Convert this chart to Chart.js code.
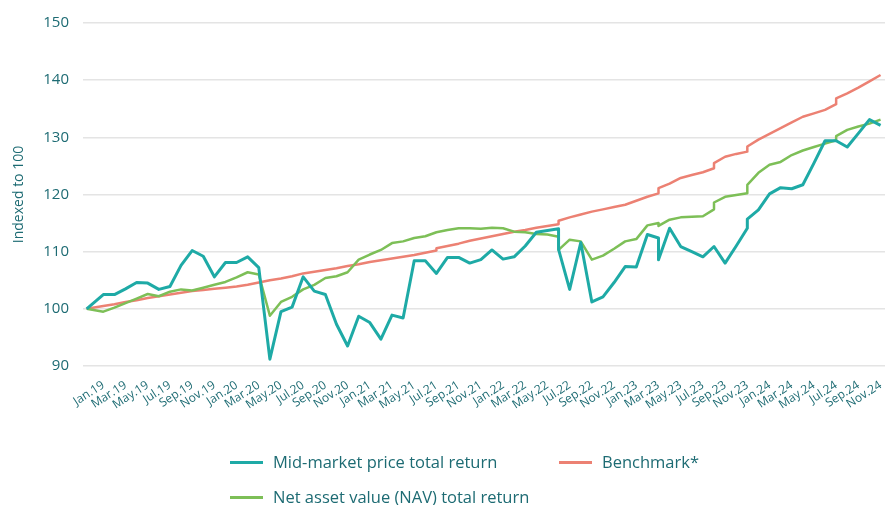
<!DOCTYPE html>
<html>
<head>
<meta charset="utf-8">
<title>Total return indexed to 100</title>
<script src="https://cdn.jsdelivr.net/npm/chart.js@4.4.1/dist/chart.umd.min.js"></script>
<style>
    body { margin: 0; background: #fff; font-family: "Open Sans", sans-serif; }
    #wrap { position: relative; width: 885px; height: 505px; }
    #chart { position: absolute; left: 0; top: 0; }
    .legend-item { position: absolute; display: flex; align-items: center; font-size: 16.5px; color: #1d6b73; white-space: nowrap; line-height: 20px; }
    .legend-item .swatch { display: inline-block; width: 33px; height: 3px; margin-right: 10px; }
</style>
</head>
<body>
<div id="wrap">
    <canvas id="chart" width="885" height="505"></canvas>
    <div id="legend"></div>
</div>
<script>
// Months since Jan.19 (repeated months = two readings in the same month)
const months = [-1.5,
    0, 1, 2, 3, 4, 5, 6, 7, 8, 9, 10, 11,
    12, 13, 14, 15, 16, 17, 18, 19, 20, 21, 22, 23,
    24, 25, 26, 27, 28, 29, 30, 30, 31, 32, 33, 34, 35,
    36, 37, 38, 39, 40, 41, 41, 42, 43, 44, 45, 46, 47,
    48, 49, 50, 50, 51, 52, 53, 54, 55, 55, 56, 57, 58, 58, 59,
    60, 61, 62, 63, 64, 65, 66, 66, 67, 68, 69, 70];

const midMarket = [100,
    102.5, 102.5, 103.5, 104.6, 104.5, 103.4, 103.9, 107.6, 110.2, 109.2, 105.6, 108.1,
    108.1, 109.1, 107.2, 91.2, 99.5, 100.3, 105.6, 103.1, 102.5, 97.3, 93.5, 98.7,
    97.6, 94.7, 98.9, 98.4, 108.4, 108.4, 106.2, 106.2, 109.0, 109.0, 108.0, 108.6, 110.3,
    108.7, 109.1, 111.0, 113.4, 113.7, 114.0, 110.4, 103.4, 111.6, 101.2, 102.1, 104.6, 107.4,
    107.3, 113.0, 112.4, 108.6, 114.1, 110.9, 110.0, 109.1, 110.9, 110.9, 108.0, 111.0, 114.1, 115.7, 117.3,
    120.1, 121.2, 121.0, 121.7, 125.5, 129.4, 129.4, 129.4, 128.3, 130.7, 133.1, 132.1];

const nav = [100,
    99.5, 100.2, 101.0, 101.8, 102.6, 102.2, 103.0, 103.4, 103.2, 103.7, 104.2, 104.7,
    105.5, 106.4, 106.0, 98.8, 101.2, 102.1, 103.4, 104.2, 105.4, 105.7, 106.4, 108.6,
    109.5, 110.3, 111.5, 111.8, 112.4, 112.7, 113.4, 113.4, 113.8, 114.1, 114.1, 114.0, 114.2,
    114.1, 113.5, 113.4, 113.1, 113.0, 112.6, 110.3, 112.1, 111.8, 108.6, 109.3, 110.5, 111.8,
    112.2, 114.6, 115.0, 114.5, 115.6, 116.0, 116.1, 116.2, 117.4, 118.6, 119.6, 119.9, 120.2, 121.7, 123.8,
    125.2, 125.7, 126.9, 127.7, 128.3, 128.9, 129.5, 130.2, 131.3, 131.9, 132.4, 133.1];

const benchmark = [100,
    100.5, 100.8, 101.2, 101.5, 101.9, 102.2, 102.5, 102.8, 103.1, 103.3, 103.5, 103.7,
    103.9, 104.2, 104.6, 105.0, 105.3, 105.7, 106.2, 106.5, 106.8, 107.1, 107.5, 107.8,
    108.2, 108.5, 108.8, 109.1, 109.4, 109.8, 110.2, 110.6, 111.0, 111.4, 111.9, 112.3, 112.7,
    113.1, 113.5, 113.8, 114.2, 114.5, 114.8, 115.4, 116.0, 116.5, 117.0, 117.4, 117.8, 118.2,
    118.9, 119.6, 120.2, 121.1, 121.9, 122.9, 123.4, 123.9, 124.6, 125.5, 126.6, 127.1, 127.5, 128.4, 129.6,
    130.6, 131.6, 132.6, 133.6, 134.2, 134.8, 135.8, 136.8, 137.7, 138.7, 139.8, 140.9];

// one label every second month, starting at Jan.19
const tickLabels = ['Jan.19', 'Mar.19', 'May.19', 'Jul.19', 'Sep.19', 'Nov.19',
    'Jan.20', 'Mar.20', 'May.20', 'Jul.20', 'Sep.20', 'Nov.20',
    'Jan.21', 'Mar.21', 'May.21', 'Jul.21', 'Sep.21', 'Nov.21',
    'Jan.22', 'Mar.22', 'May.22', 'Jul.22', 'Sep.22', 'Nov.22',
    'Jan.23', 'Mar.23', 'May.23', 'Jul.23', 'Sep.23', 'Nov.23',
    'Jan.24', 'Mar.24', 'May.24', 'Jul.24', 'Sep.24', 'Nov.24'];

const yTicks = [90, 100, 110, 120, 130, 140, 150];

const TEXT = '#1d6b73';
const series = [
    { label: 'Mid-market price total return', values: midMarket, color: '#1eaaa6', width: 3 },
    { label: 'Net asset value (NAV) total return', values: nav, color: '#7dbf57', width: 2.5 },
    { label: 'Benchmark*', values: benchmark, color: '#ec8173', width: 2.5 }
];

const toPoints = values => values.map((v, i) => ({ x: months[i], y: v }));

new Chart(document.getElementById('chart'), {
    type: 'line',
    data: {
        datasets: series.map(s => ({
            label: s.label,
            data: toPoints(s.values),
            borderColor: s.color,
            borderWidth: s.width,
            pointRadius: 0,
            tension: 0,
            borderJoinStyle: 'round',
            fill: false
        }))
    },
    options: {
        responsive: false,
        animation: false,
        layout: { padding: { top: 22, right: 0, bottom: 0, left: 0 } },
        plugins: { legend: { display: false }, tooltip: { enabled: false } },
        scales: {
            x: {
                type: 'linear',
                min: -1.83,
                max: 70.4,
                grid: { display: false },
                border: { display: false },
                afterBuildTicks: scale => {
                    scale.ticks = tickLabels.map((_, i) => ({ value: i * 2 }));
                },
                afterFit: scale => {
                    scale.height = 139;
                    scale.paddingLeft = 0;
                    scale.paddingRight = 0;
                },
                ticks: {
                    autoSkip: false,
                    minRotation: 33,
                    maxRotation: 33,
                    padding: 4,
                    color: TEXT,
                    font: { family: 'Open Sans', size: 12 },
                    callback: value => tickLabels[value / 2]
                }
            },
            y: {
                min: 90,
                max: 150,
                afterBuildTicks: scale => {
                    scale.ticks = yTicks.map(v => ({ value: v }));
                },
                afterFit: scale => { scale.width = 83; },
                grid: { color: '#e4e4e4', lineWidth: 1.5, drawTicks: false },
                border: { display: false },
                ticks: { padding: 14, color: TEXT, font: { family: 'Open Sans', size: 15 } },
                title: {
                    display: true,
                    text: 'Indexed to 100',
                    color: TEXT,
                    font: { family: 'Open Sans', size: 14 },
                    padding: { top: 11, bottom: 0 }
                }
            }
        }
    }
});

// Legend laid out in two columns like the original
const legendSpots = [
    { idx: 0, left: 230, top: 452 },
    { idx: 2, left: 559, top: 452 },
    { idx: 1, left: 230, top: 487 }
];
const legend = document.getElementById('legend');
legendSpots.forEach(spot => {
    const s = series[spot.idx];
    const item = document.createElement('div');
    item.className = 'legend-item';
    item.style.left = spot.left + 'px';
    item.style.top = spot.top + 'px';
    item.innerHTML = `<span class="swatch" style="background:${s.color}"></span><span>${s.label}</span>`;
    legend.appendChild(item);
});
</script>
</body>
</html>
